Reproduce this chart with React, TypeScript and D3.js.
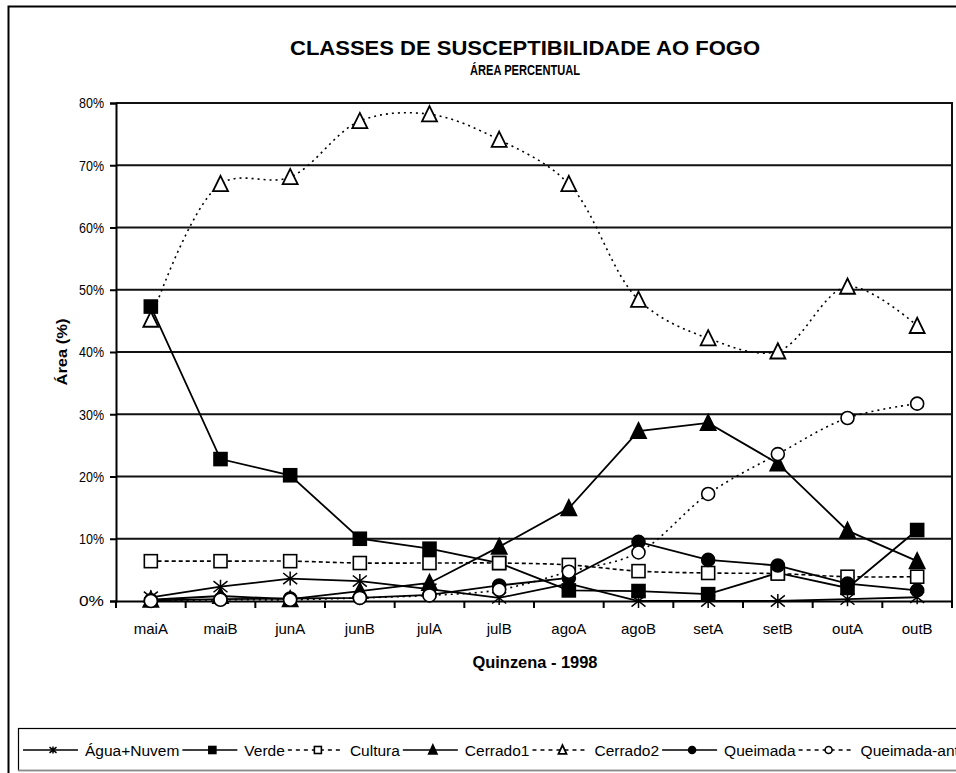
import React, { useEffect, useRef } from "react";
import * as d3 from "d3";

// quinzenas (1998)
const categories = ["maiA", "maiB", "junA", "junB", "julA", "julB", "agoA", "agoB", "setA", "setB", "outA", "outB"];

// área (%) por classe
const aguaNuvem = [0.6, 2.3, 3.6, 3.2, 1.9, 0.5, 2.8, 0.0, 0.0, 0.0, 0.3, 0.6];
const verde = [47.3, 22.8, 20.2, 10.0, 8.4, 6.1, 1.7, 1.6, 1.1, 4.5, 2.1, 11.4];
const cultura = [6.4, 6.4, 6.4, 6.1, 6.1, 6.1, 5.8, 4.8, 4.5, 4.4, 3.9, 3.9];
const cerrado1 = [0.2, 0.8, 0.3, 1.6, 2.9, 8.7, 14.9, 27.3, 28.6, 22.1, 11.3, 6.4];
const cerrado2 = [45.2, 67.0, 68.1, 77.1, 78.2, 74.1, 67.0, 48.4, 42.2, 40.1, 50.5, 44.2];
const queimada = [0.1, 0.3, 0.4, 0.5, 1.0, 2.5, 3.7, 9.5, 6.6, 5.7, 2.8, 1.7];
const queimadaAnt = [0.0, 0.2, 0.2, 0.5, 0.9, 1.8, 4.7, 7.8, 17.2, 23.6, 29.4, 31.7];

const yTicks = [0, 10, 20, 30, 40, 50, 60, 70, 80];

type Marker = "asterisk" | "square" | "triangle" | "circle";

const series = [
  { name: "Água+Nuvem", values: aguaNuvem, marker: "asterisk" as Marker, filled: true, dash: null, smooth: false },
  { name: "Verde", values: verde, marker: "square" as Marker, filled: true, dash: null, smooth: false },
  { name: "Cultura", values: cultura, marker: "square" as Marker, filled: false, dash: "4,3", smooth: true },
  { name: "Cerrado1", values: cerrado1, marker: "triangle" as Marker, filled: true, dash: null, smooth: false },
  { name: "Cerrado2", values: cerrado2, marker: "triangle" as Marker, filled: false, dash: "2,4", smooth: true },
  { name: "Queimada", values: queimada, marker: "circle" as Marker, filled: true, dash: null, smooth: false },
  { name: "Queimada-ant", values: queimadaAnt, marker: "circle" as Marker, filled: false, dash: "2,4", smooth: true },
];

const W = 956;
const H = 773;
const FONT = "Arial, 'Liberation Sans', sans-serif";

function drawMarker(g: any, type: Marker, filled: boolean, s: number) {
  const fill = filled ? "#000" : "#fff";
  if (type === "square") {
    g.append("rect").attr("x", -s / 2).attr("y", -s / 2).attr("width", s).attr("height", s)
      .attr("fill", fill).attr("stroke", "#000").attr("stroke-width", 1.6);
  } else if (type === "triangle") {
    const h = s * 0.95;
    g.append("path").attr("d", `M0,${-h / 2 - 1}L${s / 2},${h / 2}L${-s / 2},${h / 2}Z`)
      .attr("fill", fill).attr("stroke", "#000").attr("stroke-width", 1.8).attr("stroke-linejoin", "miter");
  } else if (type === "circle") {
    g.append("circle").attr("r", s / 2).attr("fill", fill).attr("stroke", "#000").attr("stroke-width", 1.6);
  } else {
    const r = s / 2;
    g.append("path").attr("d", `M${-r},${-r * 0.8}L${r},${r * 0.8}M${-r},${r * 0.8}L${r},${-r * 0.8}M0,${-r}L0,${r}`)
      .attr("stroke", "#000").attr("stroke-width", 1.5).attr("fill", "none");
  }
}

export default function App() {
  const ref = useRef<SVGSVGElement>(null);

  useEffect(() => {
    const svg = d3.select(ref.current);
    svg.selectAll("*").remove();

    const left = 116, right = 952, top = 103, bottom = 601;

    const x = d3.scaleBand().domain(categories).range([left, right]);
    const y = d3.scaleLinear().domain([0, 80]).range([bottom, top]);
    const cx = (c: string) => (x(c) as number) + x.bandwidth() / 2;

    svg.append("rect").attr("width", W).attr("height", H).attr("fill", "#fff");

    // outer frame
    svg.append("rect").attr("x", 8.5).attr("y", 6.5).attr("width", W + 10).attr("height", H + 10)
      .attr("fill", "none").attr("stroke", "#000").attr("stroke-width", 2);

    // titles (texto um pouco condensado, como no original)
    svg.append("text").attr("x", 525).attr("y", 55).attr("text-anchor", "middle")
      .attr("font-family", FONT).attr("font-weight", "bold").attr("font-size", 21)
      .attr("textLength", 470).attr("lengthAdjust", "spacingAndGlyphs")
      .text("CLASSES DE SUSCEPTIBILIDADE AO FOGO");
    svg.append("text").attr("x", 525).attr("y", 75).attr("text-anchor", "middle")
      .attr("font-family", FONT).attr("font-weight", "bold").attr("font-size", 14)
      .attr("textLength", 110).attr("lengthAdjust", "spacingAndGlyphs")
      .text("ÁREA PERCENTUAL");

    // gridlines
    svg.append("g").selectAll("line").data(yTicks.filter((t) => t > 0)).enter().append("line")
      .attr("x1", left).attr("x2", right).attr("y1", (d) => y(d)).attr("y2", (d) => y(d))
      .attr("stroke", "#111").attr("stroke-width", 2);
    svg.append("line").attr("x1", right).attr("x2", right).attr("y1", top - 1).attr("y2", bottom)
      .attr("stroke", "#111").attr("stroke-width", 2);

    // y axis
    const yAxis = svg.append("g").attr("transform", `translate(${left},0)`)
      .call(d3.axisLeft(y).tickValues(yTicks).tickSize(6).tickFormat((d) => `${d}%`));
    yAxis.select(".domain").attr("stroke", "#000").attr("stroke-width", 2);
    yAxis.selectAll(".tick line").attr("stroke", "#000").attr("stroke-width", 2);
    yAxis.selectAll("text").attr("font-family", FONT).attr("font-size", 15).attr("fill", "#000").attr("x", -12)
      .attr("textLength", 25).attr("lengthAdjust", "spacingAndGlyphs");

    // x axis
    const xAxis = svg.append("g").attr("transform", `translate(0,${bottom})`)
      .call(d3.axisBottom(x).tickSize(0).tickPadding(22));
    xAxis.select(".domain").attr("stroke", "#000").attr("stroke-width", 2);
    xAxis.selectAll("text").attr("font-family", FONT).attr("font-size", 15).attr("fill", "#000");
    svg.append("g").selectAll("line").data(d3.range(categories.length + 1)).enter().append("line")
      .attr("x1", (i) => left + i * x.step()).attr("x2", (i) => left + i * x.step())
      .attr("y1", bottom).attr("y2", bottom + 7).attr("stroke", "#000").attr("stroke-width", 2);

    // axis titles
    svg.append("text").attr("transform", `translate(67,${(top + bottom) / 2}) rotate(-90)`)
      .attr("text-anchor", "middle").attr("font-family", FONT).attr("font-weight", "bold").attr("font-size", 15.5)
      .attr("textLength", 67).attr("lengthAdjust", "spacingAndGlyphs")
      .text("Área (%)");
    svg.append("text").attr("x", 535).attr("y", 668).attr("text-anchor", "middle")
      .attr("font-family", FONT).attr("font-weight", "bold").attr("font-size", 16)
      .attr("textLength", 125).attr("lengthAdjust", "spacingAndGlyphs")
      .text("Quinzena - 1998");

    // series
    series.forEach((s) => {
      const line = d3.line<number>().x((_, i) => cx(categories[i])).y((d) => y(d))
        .curve(s.smooth ? d3.curveCatmullRom.alpha(0.5) : d3.curveLinear);
      svg.append("path").attr("d", line(s.values)).attr("fill", "none").attr("stroke", "#000")
        .attr("stroke-width", s.dash ? 1.6 : 1.8).attr("stroke-dasharray", s.dash);
      s.values.forEach((v, i) => {
        const g = svg.append("g").attr("transform", `translate(${cx(categories[i])},${y(v)})`);
        drawMarker(g, s.marker, s.filled, s.marker === "triangle" ? 15 : s.marker === "asterisk" ? 14 : 13);
      });
    });

    // legend
    svg.append("rect").attr("x", 18.5).attr("y", 728.5).attr("width", W).attr("height", 42)
      .attr("fill", "#fff").attr("stroke", "#000").attr("stroke-width", 1.2);
    svg.append("line").attr("x1", 18).attr("x2", W).attr("y1", 770.5).attr("y2", 770.5)
      .attr("stroke", "#888").attr("stroke-width", 1.5);
    let lx = 23;
    const ly = 750;
    series.forEach((s) => {
      svg.append("line").attr("x1", lx).attr("x2", lx + 55).attr("y1", ly).attr("y2", ly)
        .attr("stroke", "#000").attr("stroke-width", 1.5).attr("stroke-dasharray", s.dash ? "4,4" : null);
      const g = svg.append("g").attr("transform", `translate(${lx + 30},${ly})`);
      drawMarker(g, s.marker, s.filled, s.marker === "triangle" ? 8 : 7);
      const t = svg.append("text").attr("x", lx + 62).attr("y", ly + 5.5).attr("font-family", FONT)
        .attr("font-size", 15.5).text(s.name);
      const tw = (t.node() as SVGTextElement).getComputedTextLength();
      lx = lx + 62 + tw + 3;
    });
  }, []);

  return (
    <svg ref={ref} width={W} height={H} style={{ position: "absolute", left: 0, top: 0 }}></svg>
  );
}
